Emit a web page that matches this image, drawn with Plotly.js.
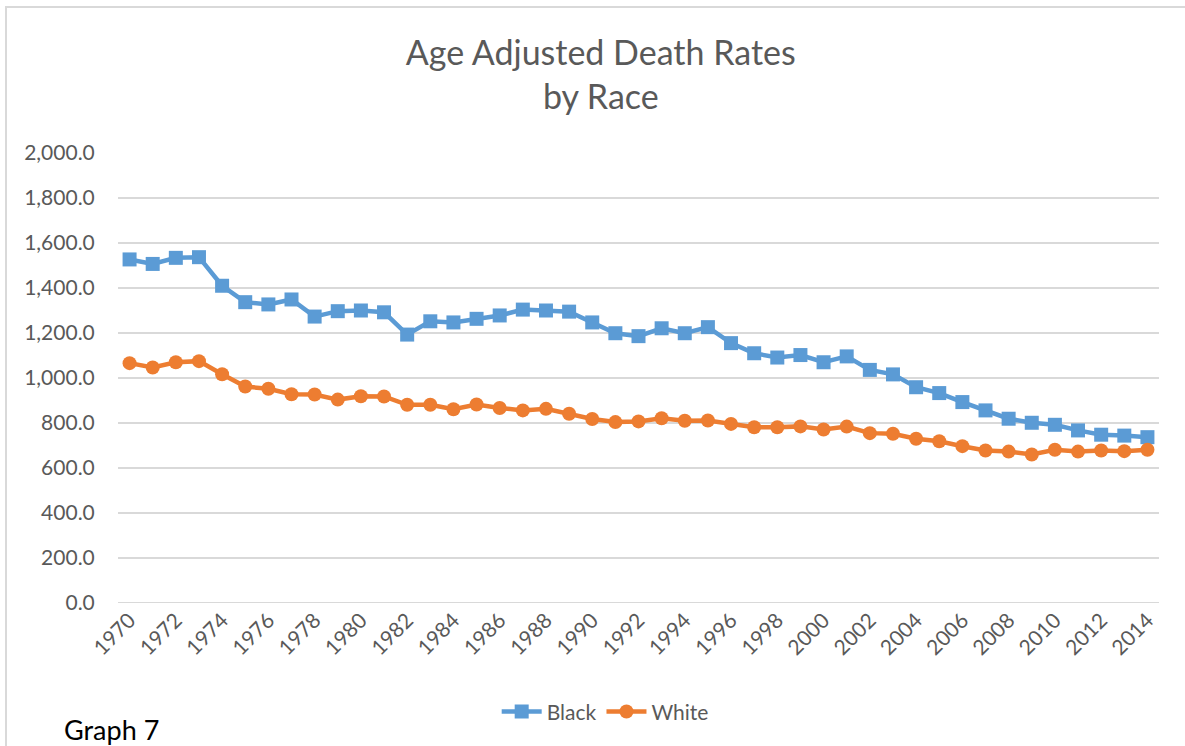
<!DOCTYPE html>
<html>
<head>
<meta charset="utf-8">
<script src="https://cdn.plot.ly/plotly-3.0.1.min.js"></script>
<style>
  html, body { margin: 0; padding: 0; background: #fff; }
  #chart { width: 1185px; height: 746px; position: relative; }
  #frame { position: absolute; left: 5px; top: 6px; width: 1185px; height: 746px;
           border-left: 2px solid #D9D9D9; border-top: 2px solid #D9D9D9; pointer-events: none; }
</style>
</head>
<body>
<div id="chart"></div>
<div id="frame"></div>
<script>
const years = [1970,1971,1972,1973,1974,1975,1976,1977,1978,1979,
               1980,1981,1982,1983,1984,1985,1986,1987,1988,1989,
               1990,1991,1992,1993,1994,1995,1996,1997,1998,1999,
               2000,2001,2002,2003,2004,2005,2006,2007,2008,2009,
               2010,2011,2012,2013,2014];

const black = [1527,1507,1534,1537,1410,1337,1327,1349,1273,1297,
               1300,1292,1193,1252,1247,1263,1278,1304,1300,1295,
               1247,1199,1186,1221,1199,1226,1155,1110,1091,1102,
               1070,1096,1036,1016,959,933,893,856,819,801,
               792,767,748,744,737];

const white = [1066,1047,1070,1075,1017,962,952,928,927,904,
               919,918,881,881,861,882,867,856,863,841,
               818,804,807,821,810,811,796,781,781,785,
               771,784,755,752,730,719,697,678,673,660,
               681,673,678,675,681];

const tickYears = [1970,1972,1974,1976,1978,1980,1982,1984,1986,1988,1990,1992,
                   1994,1996,1998,2000,2002,2004,2006,2008,2010,2012,2014];
const yTicks = [0,200,400,600,800,1000,1200,1400,1600,1800,2000];

const FONT = 'Lato, "Open Sans", sans-serif';
const GREY = '#595959';

const traces = [
  { x: years, y: black, name: 'Black', type: 'scatter', mode: 'lines+markers',
    line: { color: '#5B9BD5', width: 4.5 },
    marker: { symbol: 'square', size: 14, color: '#5B9BD5' } },
  { x: years, y: white, name: 'White', type: 'scatter', mode: 'lines+markers',
    line: { color: '#ED7D31', width: 4.5 },
    marker: { symbol: 'circle', size: 14, color: '#ED7D31' } }
];

const layout = {
  width: 1185, height: 746,
  margin: { l: 118, r: 26, t: 153, b: 143 },
  paper_bgcolor: '#ffffff', plot_bgcolor: '#ffffff',
  font: { family: FONT, color: GREY, size: 21 },
  title: { text: 'Age Adjusted Death Rates<br>by Race',
           font: { family: FONT, size: 34, color: GREY },
           x: 0.507, xanchor: 'center', xref: 'container',
           y: 0.913, yanchor: 'middle', yref: 'container' },
  xaxis: { range: [1969.5, 2014.5], tickvals: tickYears, ticktext: tickYears.map(String),
           tickangle: -45, showgrid: false, zeroline: false, showline: false,
           ticks: '', ticklen: 0,
           tickfont: { family: FONT, size: 21, color: GREY } },
  yaxis: { range: [0, 2000], tickvals: yTicks, tickformat: ',.1f',
           showgrid: true, gridcolor: '#D9D9D9', gridwidth: 1.5, zeroline: false,
           showline: false, ticks: 'outside', ticklen: 18, tickcolor: 'rgba(0,0,0,0)',
           automargin: false,
           tickfont: { family: FONT, size: 21, color: GREY } },
  shapes: [
    { type: 'line', xref: 'paper', yref: 'y', x0: 0, x1: 1, y0: 0, y1: 0,
      line: { color: '#D9D9D9', width: 2 } }
  ],
  legend: { orientation: 'h', x: 0.468, xanchor: 'center', y: -0.242, yanchor: 'middle',
            font: { family: FONT, size: 21, color: GREY }, itemwidth: 40 },
  annotations: [
    { text: 'Graph 7', xref: 'paper', yref: 'paper', x: -0.054, y: -0.282,
      xanchor: 'left', yanchor: 'middle', showarrow: false,
      font: { family: FONT, size: 27, color: '#000000' } }
  ],
  showlegend: true
};

Plotly.newPlot('chart', traces, layout, { displayModeBar: false, staticPlot: true });
</script>
</body>
</html>
